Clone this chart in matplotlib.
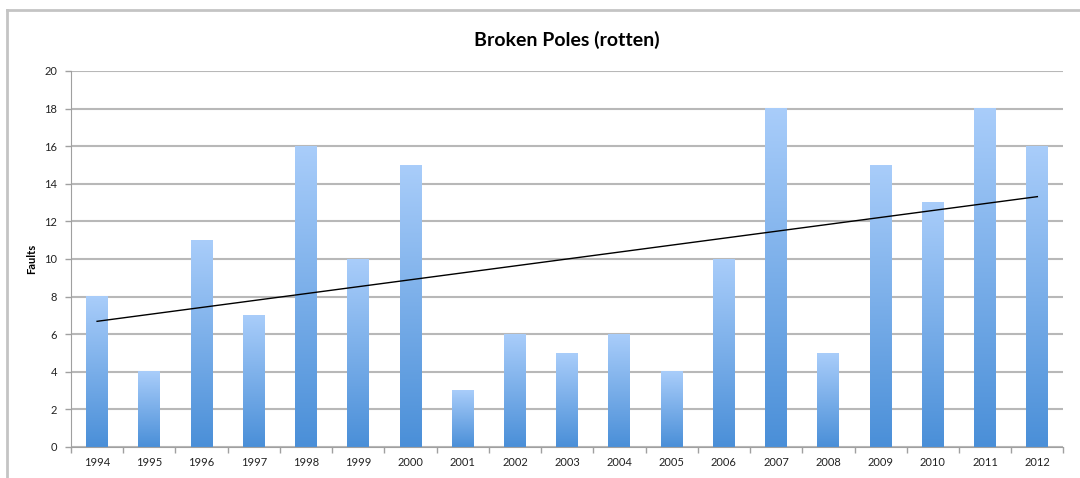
import matplotlib
matplotlib.use("Agg")
import matplotlib.pyplot as plt
import numpy as np
from matplotlib.lines import Line2D
from matplotlib.colors import LinearSegmentedColormap

years = ["1994", "1995", "1996", "1997", "1998", "1999", "2000", "2001", "2002", "2003",
         "2004", "2005", "2006", "2007", "2008", "2009", "2010", "2011", "2012"]
faults = [8, 4, 11, 7, 16, 10, 15, 3, 6, 5, 6, 4, 10, 18, 5, 15, 13, 18, 16]

plt.rcParams["font.family"] = ["Lato", "DejaVu Sans"]

fig = plt.figure(figsize=(10.8, 4.78), dpi=100)
ax = fig.add_axes([0.0657, 0.0649, 0.919, 0.7866])

x = np.arange(len(years))
width = 0.42
bars = ax.bar(x, faults, width=width, color="none", zorder=2)

# gradient for each bar: light at top, darker at bottom
cmap = LinearSegmentedColormap.from_list("bar", ["#4a8fd8", "#a9cdfa"])
grad = np.linspace(0, 1, 256).reshape(-1, 1)
for b in bars:
    x0, y0 = b.get_x(), b.get_y()
    ax.imshow(grad, cmap=cmap, origin="lower", aspect="auto", zorder=2,
              extent=(x0, x0 + b.get_width(), y0, y0 + b.get_height()))

# linear trendline
k, c = np.polyfit(x, faults, 1)
ax.plot([x[0], x[-1]], [c + k * x[0], c + k * x[-1]], color="black", lw=1, zorder=3)

ax.set_xlim(-0.5, len(years) - 0.5)
ax.set_ylim(0, 20)
ax.set_yticks(range(0, 21, 2))
ax.set_xticks(x)
ax.set_xticklabels(years)
ax.set_xticks(np.arange(-0.5, len(years)), minor=True)
ax.tick_params(axis="x", which="major", length=0, labelsize=8, pad=7, colors="#222222")
ax.tick_params(axis="x", which="minor", length=4, color="#a0a0a0", width=1)
ax.tick_params(axis="y", length=4, color="#a0a0a0", width=1, labelsize=8, pad=6,
               labelcolor="#222222")
ax.grid(axis="y", color="#b8b8b8", lw=1.5, zorder=0)
ax.set_axisbelow(True)
for side in ["top", "right"]:
    ax.spines[side].set_visible(False)
ax.spines["left"].set_color("#a0a0a0")
ax.spines["bottom"].set_color("#a0a0a0")
ax.set_ylabel("Faults", fontsize=8, fontweight="bold", labelpad=5)
ax.set_title("Broken Poles (rotten)", fontsize=14, fontweight="bold", pad=18)

# outer chart frame
fig.add_artist(Line2D([0.0065, 0.0065], [0, 0.979], transform=fig.transFigure, color="#c4c4c4", lw=2))
fig.add_artist(Line2D([0.0065, 1.0], [0.979, 0.979], transform=fig.transFigure, color="#c4c4c4", lw=2))

fig.savefig("out.png", dpi=100)
